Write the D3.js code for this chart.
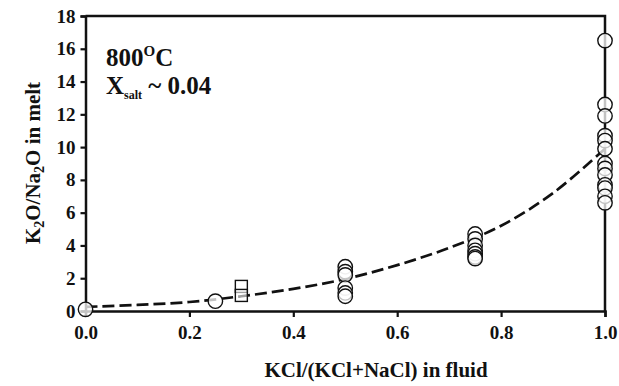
<!DOCTYPE html>
<html>
<head>
<meta charset="utf-8">
<script src="https://cdn.jsdelivr.net/npm/d3@7/dist/d3.min.js"></script>
<style>
  html, body { margin: 0; padding: 0; background: #fff; }
  svg { display: block; }
  text { font-family: "Liberation Serif", "Times New Roman", serif; font-weight: bold; fill: #111; }
</style>
</head>
<body>
<svg id="chart" width="619" height="386"></svg>
<script>
// KCl fraction in fluid vs K2O/Na2O ratio in melt, 800 °C
const circleX = [0.0, 0.25,
  0.5, 0.5, 0.5, 0.5, 0.5, 0.5,
  0.75, 0.75, 0.75, 0.75, 0.75, 0.75, 0.75,
  1.0, 1.0, 1.0, 1.0, 1.0, 1.0, 1.0, 1.0, 1.0, 1.0, 1.0, 1.0, 1.0];
const circleY = [0.1, 0.6,
  2.7, 2.4, 2.2, 1.4, 1.1, 0.9,
  4.7, 4.4, 4.0, 3.7, 3.5, 3.3, 3.2,
  16.5, 12.6, 11.9, 10.7, 10.4, 9.9, 9.0, 8.7, 8.3, 7.7, 7.5, 7.0, 6.6];
const squareX = [0.3, 0.3];
const squareY = [1.5, 0.95];
const fitX = [0.0, 0.1, 0.2, 0.3, 0.4, 0.5, 0.6, 0.7, 0.8, 0.9, 1.0];
const fitY = [0.25, 0.37, 0.55, 0.9, 1.35, 1.95, 2.8, 3.85, 5.2, 7.2, 9.9];
const xTicks = [0.0, 0.2, 0.4, 0.6, 0.8, 1.0];
const yTicks = [0, 2, 4, 6, 8, 10, 12, 14, 16, 18];

const svg = d3.select("#chart");
const mLeft = 85.5, mRight = 605, mTop = 16, mBottom = 311;
const x = d3.scaleLinear().domain([0, 1]).range([mLeft, mRight]);
const y = d3.scaleLinear().domain([0, 18]).range([mBottom, mTop]);

// frame: top and right borders
svg.append("path")
  .attr("d", `M${mLeft},${mTop}H${mRight}V${mBottom}`)
  .attr("fill", "none").attr("stroke", "#111").attr("stroke-width", 2.5);

const xAxis = svg.append("g").attr("transform", `translate(0,${mBottom})`)
  .call(d3.axisBottom(x).tickValues(xTicks).tickFormat(d3.format(".1f")).tickSize(6).tickPadding(9));
const yAxis = svg.append("g").attr("transform", `translate(${mLeft},0)`)
  .call(d3.axisLeft(y).tickValues(yTicks).tickFormat(d3.format("d")).tickSize(5).tickPadding(5));
[xAxis, yAxis].forEach(g => {
  g.select(".domain").attr("stroke", "#111").attr("stroke-width", 2.5);
  g.selectAll(".tick line").attr("stroke", "#111").attr("stroke-width", 2.2);
  g.selectAll(".tick text").style("font-size", "19px").style("font-family", "Liberation Serif").style("font-weight", "bold").attr("fill", "#111");
});

// dashed trend curve
const line = d3.line().x((d, i) => x(fitX[i])).y(d => y(d)).curve(d3.curveCatmullRom);
svg.append("path").datum(fitY).attr("d", line)
  .attr("fill", "none").attr("stroke", "#111").attr("stroke-width", 2.7)
  .attr("stroke-dasharray", "12,5");

// open circle markers
svg.append("g").selectAll("circle").data(circleY).join("circle")
  .attr("cx", (d, i) => x(circleX[i])).attr("cy", d => y(d)).attr("r", 7.2)
  .attr("fill", "#fff").attr("fill-opacity", 0.75).attr("stroke", "#111").attr("stroke-width", 1.4);

// open square markers
const s = 12;
svg.append("g").selectAll("rect").data(squareY).join("rect")
  .attr("x", (d, i) => x(squareX[i]) - s / 2).attr("y", d => y(d) - s / 2)
  .attr("width", s).attr("height", s)
  .attr("fill", "#fff").attr("fill-opacity", 0.6).attr("stroke", "#111").attr("stroke-width", 1.4);

// annotation
const t1 = svg.append("text").attr("x", 106).attr("y", 66).style("font-size", "25px");
t1.append("tspan").text("800");
t1.append("tspan").attr("dy", -10).style("font-size", "15px").text("O");
t1.append("tspan").attr("dy", 10).text("C");
const t2 = svg.append("text").attr("x", 106).attr("y", 94).style("font-size", "25px");
t2.append("tspan").text("X");
t2.append("tspan").attr("dy", 5).style("font-size", "12px").text("salt");
t2.append("tspan").attr("dy", -5).text(" ~ 0.04");

// axis titles
svg.append("text").attr("x", 376).attr("y", 377).attr("text-anchor", "middle")
  .style("font-size", "21px").text("KCl/(KCl+NaCl) in fluid");
const yt = svg.append("text").attr("transform", "translate(40,163) rotate(-90)")
  .attr("text-anchor", "middle").style("font-size", "21px");
yt.append("tspan").text("K");
yt.append("tspan").attr("dy", 4).style("font-size", "14px").text("2");
yt.append("tspan").attr("dy", -4).text("O/Na");
yt.append("tspan").attr("dy", 4).style("font-size", "14px").text("2");
yt.append("tspan").attr("dy", -4).text("O in melt");
</script>
</body>
</html>
